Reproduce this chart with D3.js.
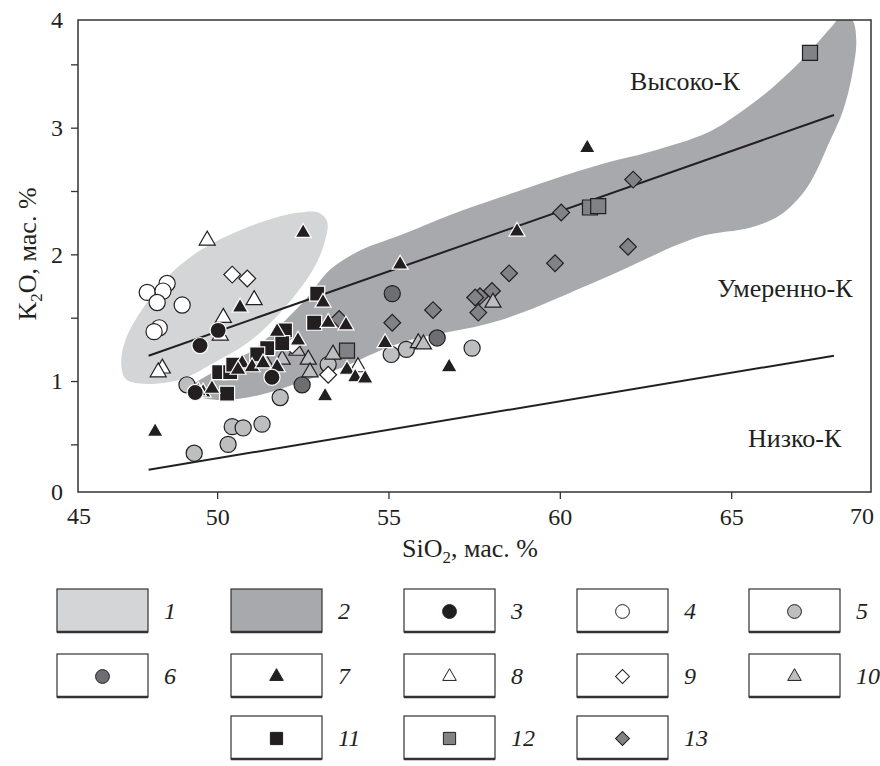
<!DOCTYPE html>
<html>
<head>
<meta charset="utf-8">
<script src="https://cdn.jsdelivr.net/npm/d3@7"></script>
<style>
  body { margin: 0; background: #fff; }
  svg { display: block; font-family: "Liberation Serif", "Times New Roman", serif; }
</style>
</head>
<body>
<svg width="880" height="766"></svg>
<script>
// ---- data: [SiO2, K2O] ----
var field1 = [[52.42,2.33],[52.95,2.33],[53.21,2.26],[53.15,2.11],[52.80,1.88],[51.84,1.54],[50.88,1.30],
  [49.88,1.14],[48.92,1.01],[47.75,0.98],[47.32,1.02],[47.20,1.15],[47.32,1.32],[47.61,1.48],[48.54,1.82],
  [49.50,2.03],[50.67,2.19],[51.84,2.30]];
var field2 = [[68.18,3.89],[68.53,3.85],[68.65,3.69],[68.53,3.42],[68.27,3.14],[67.89,2.90],[67.22,2.53],
  [66.43,2.31],[65.55,2.21],[64.09,2.14],[61.18,1.80],[58.26,1.48],[55.34,1.30],[53.59,1.10],[52.42,0.99],
  [51.25,0.89],[50.09,0.85],[49.36,0.89],[49.21,0.95],[49.50,1.01],[50.38,1.14],[51.17,1.27],[51.84,1.44],
  [52.63,1.66],[53.30,1.88],[54.17,2.03],[55.34,2.15],[56.80,2.31],[58.26,2.45],[59.43,2.56],[61.18,2.71],
  [62.63,2.81],[64.30,2.96],[65.26,3.12],[66.22,3.32],[67.01,3.52],[67.68,3.72],[68.03,3.83]];
var highKLine = [[48,1.2],[68,3.1]];
var lowKLine = [[48,0.3],[68,1.2]];

var s3 = [[49.50,1.28],[50.03,1.40],[51.60,1.03],[49.36,0.91]];
var s4 = [[47.96,1.70],[48.54,1.77],[48.42,1.71],[48.25,1.62],[48.98,1.60],[48.31,1.42],[48.16,1.39]];
var s5 = [[49.12,0.97],[51.84,0.87],[50.44,0.64],[50.76,0.63],[51.31,0.66],[50.32,0.50],[49.33,0.43],
  [53.24,1.13],[55.08,1.21],[55.52,1.25],[57.44,1.26]];
var s6 = [[52.48,0.97],[55.11,1.69],[56.42,1.34]];
var s7 = [[48.19,0.60],[52.51,2.17],[55.34,1.92],[58.75,2.18],[60.80,2.84],[56.77,1.11],[53.15,0.88],
  [50.67,1.58],[53.09,1.62],[53.24,1.46],[53.76,1.44],[51.75,1.39],[52.36,1.32],[50.73,1.14],[51.02,1.11],
  [51.34,1.14],[51.75,1.11],[50.61,1.09],[49.59,0.91],[49.85,0.94],[49.45,0.92],[53.79,1.09],[54.03,1.03],
  [54.32,1.02],[54.90,1.30]];
var s8 = [[49.71,2.11],[51.08,1.64],[50.18,1.50],[48.40,1.10],[48.28,1.07],[50.09,1.36],[54.11,1.11]];
var s9 = [[50.44,1.84],[50.88,1.81],[52.19,1.28],[53.24,1.05]];
var s10 = [[51.90,1.17],[52.66,1.17],[52.33,1.24],[52.71,1.07],[53.38,1.21],[51.40,1.15],[55.87,1.30],
  [56.02,1.29],[58.05,1.62]];
var s11 = [[52.92,1.69],[52.83,1.46],[51.98,1.40],[51.46,1.26],[51.17,1.21],[50.06,1.07],[50.38,1.07],
  [50.29,0.90],[51.90,1.30],[50.47,1.13]];
var s12 = [[67.30,3.59],[60.88,2.37],[61.12,2.38],[53.79,1.24]];
var s13 = [[62.14,2.59],[60.04,2.33],[61.99,2.06],[59.86,1.93],[58.52,1.85],[58.02,1.71],[57.67,1.67],
  [57.53,1.66],[57.62,1.54],[56.30,1.56],[55.11,1.46],[53.56,1.49]];

var xTicks = [50, 55, 60, 65];
var yTicks = [0.5, 1, 1.5, 2, 2.5, 3, 3.5];
var yTickLabels = {1: "1", 2: "2", 3: "3"};
var xCornerLabels = ["45", "70"];
var yCornerLabels = ["0", "4"];
var fieldLabels = [
  {text: "Высоко-К", sio2: 62.05, k2o: 3.30},
  {text: "Умеренно-К", sio2: 64.59, k2o: 1.66},
  {text: "Низко-К", sio2: 65.49, k2o: 0.48}
];

var BLACK = "#231f20";
var series = [
  {id: "3", data: s3, shape: "circle", fill: BLACK, stroke: "#fff"},
  {id: "4", data: s4, shape: "circle", fill: "#fff", stroke: BLACK},
  {id: "5", data: s5, shape: "circle", fill: "#bcbec0", stroke: BLACK},
  {id: "6", data: s6, shape: "circle", fill: "#6d6e71", stroke: BLACK},
  {id: "7", data: s7, shape: "triangle", fill: BLACK, stroke: "#fff"},
  {id: "8", data: s8, shape: "triangle", fill: "#fff", stroke: BLACK},
  {id: "9", data: s9, shape: "diamond", fill: "#fff", stroke: BLACK},
  {id: "10", data: s10, shape: "triangle", fill: "#bcbec0", stroke: BLACK},
  {id: "11", data: s11, shape: "square", fill: BLACK, stroke: "#fff"},
  {id: "12", data: s12, shape: "square", fill: "#808285", stroke: BLACK},
  {id: "13", data: s13, shape: "diamond", fill: "#808285", stroke: BLACK}
];
var drawOrder = ["13", "12", "6", "5", "10", "9", "8", "4", "11", "7", "3"];

// ---- layout ----
var plot = {left: 78, right: 871, top: 20, bottom: 492};
var x = d3.scaleLinear().domain([45.94, 69.08]).range([plot.left, plot.right]);
var y = d3.scaleLinear().domain([0.124, 3.85]).range([plot.bottom, plot.top]);

var svg = d3.select("svg");

svg.append("clipPath").attr("id", "plot-clip")
  .append("rect")
  .attr("x", plot.left).attr("y", plot.top)
  .attr("width", plot.right - plot.left).attr("height", plot.bottom - plot.top);

var area = d3.line()
  .x(function(d) { return x(d[0]); })
  .y(function(d) { return y(d[1]); })
  .curve(d3.curveCatmullRomClosed.alpha(0.5));
var line = d3.line()
  .x(function(d) { return x(d[0]); })
  .y(function(d) { return y(d[1]); });

var g = svg.append("g").attr("clip-path", "url(#plot-clip)");
g.append("path").attr("d", area(field2)).attr("fill", "#a7a9ac");
g.append("path").attr("d", area(field1)).attr("fill", "#d4d5d7");
g.append("path").attr("d", line(highKLine)).attr("fill", "none").attr("stroke", BLACK).attr("stroke-width", 2);
g.append("path").attr("d", line(lowKLine)).attr("fill", "none").attr("stroke", BLACK).attr("stroke-width", 2);

function symbolPath(shape, big) {
  if (shape == "circle") return d3.symbol(d3.symbolCircle, big ? 205 : 150)();
  if (shape == "triangle") return d3.symbol(d3.symbolTriangle, big ? 112 : 80)();
  if (shape == "square") return d3.symbol(d3.symbolSquare, big ? 225 : 150)();
  return d3.symbol(d3.symbolSquare, big ? 140 : 96)();
}
function symbolTransform(shape, px, py) {
  return "translate(" + px + "," + py + ")" + (shape == "diamond" ? " rotate(45)" : "");
}

var byId = {};
series.forEach(function(s) { byId[s.id] = s; });
drawOrder.forEach(function(id) {
  var s = byId[id];
  svg.append("g").selectAll("path").data(s.data).join("path")
    .attr("d", symbolPath(s.shape, true))
    .attr("transform", function(d) { return symbolTransform(s.shape, x(d[0]), y(d[1])); })
    .attr("fill", s.fill)
    .attr("stroke", s.stroke)
    .attr("stroke-width", 1.2);
});

// field labels
svg.append("g").selectAll("text").data(fieldLabels).join("text")
  .attr("x", function(d) { return x(d.sio2); })
  .attr("y", function(d) { return y(d.k2o); })
  .attr("font-size", 26)
  .attr("fill", BLACK)
  .text(function(d) { return d.text; });

// frame
svg.append("rect")
  .attr("x", plot.left).attr("y", plot.top)
  .attr("width", plot.right - plot.left).attr("height", plot.bottom - plot.top)
  .attr("fill", "none").attr("stroke", "#333").attr("stroke-width", 1.5);

// axes
var xAxis = svg.append("g")
  .attr("transform", "translate(0," + plot.bottom + ")")
  .call(d3.axisBottom(x).tickValues(xTicks).tickSize(7).tickSizeOuter(0).tickPadding(9));
var yAxis = svg.append("g")
  .attr("transform", "translate(" + plot.left + ",0)")
  .call(d3.axisLeft(y).tickValues(yTicks).tickSize(7).tickSizeOuter(0).tickPadding(8)
    .tickFormat(function(d) { return yTickLabels[d] || ""; }));
[xAxis, yAxis].forEach(function(a) {
  a.select(".domain").remove();
  a.selectAll("line").attr("stroke", "#333").attr("stroke-width", 1.3);
  a.selectAll("text").attr("font-family", "Liberation Serif").attr("font-size", 24).attr("fill", BLACK);
});

// corner labels (axis ends)
svg.append("g").selectAll("text").data(xCornerLabels).join("text")
  .attr("x", function(d, i) { return i == 0 ? plot.left + 1 : plot.right - 9; })
  .attr("y", plot.bottom + 32)
  .attr("text-anchor", "middle")
  .attr("font-size", 24).attr("fill", BLACK)
  .text(function(d) { return d; });
svg.append("g").selectAll("text").data(yCornerLabels).join("text")
  .attr("x", plot.left - 15)
  .attr("y", function(d, i) { return (i == 0 ? plot.bottom : plot.top) + 8; })
  .attr("text-anchor", "end")
  .attr("font-size", 24).attr("fill", BLACK)
  .text(function(d) { return d; });

// axis titles
var xt = svg.append("text")
  .attr("x", 470).attr("y", 557)
  .attr("text-anchor", "middle").attr("font-size", 26).attr("fill", BLACK);
xt.append("tspan").text("SiO");
xt.append("tspan").attr("font-size", 17).attr("dy", 6).text("2");
xt.append("tspan").attr("dy", -6).text(", мас. %");

var yt = svg.append("text")
  .attr("transform", "translate(36,254) rotate(-90)")
  .attr("text-anchor", "middle").attr("font-size", 26).attr("fill", BLACK);
yt.append("tspan").text("K");
yt.append("tspan").attr("font-size", 17).attr("dy", 6).text("2");
yt.append("tspan").attr("dy", -6).text("O, мас. %");

// ---- legend ----
var legendItems = [
  {id: "1", area: "#d4d5d7"}, {id: "2", area: "#a7a9ac"}
].concat(series);
var legCols = [57, 231, 404, 577, 749];
var legRows = [589, 654, 716];
var legendPos = [[0,0],[1,0],[2,0],[3,0],[4,0],[0,1],[1,1],[2,1],[3,1],[4,1],[1,2],[2,2],[3,2]];
var boxW = 91, boxH = 43;

var leg = svg.append("g").selectAll("g").data(legendItems).join("g")
  .attr("transform", function(d, i) {
    return "translate(" + legCols[legendPos[i][0]] + "," + legRows[legendPos[i][1]] + ")";
  });
leg.append("rect")
  .attr("width", boxW).attr("height", boxH)
  .attr("fill", function(d) { return d.area || "#fff"; })
  .attr("stroke", "#333").attr("stroke-width", 1.2);
leg.append("line")
  .attr("x1", 0).attr("x2", boxW).attr("y1", boxH).attr("y2", boxH)
  .attr("stroke", "#333").attr("stroke-width", 2.5);
leg.filter(function(d) { return !d.area; }).append("path")
  .attr("d", function(d) { return symbolPath(d.shape, false); })
  .attr("transform", function(d) { return symbolTransform(d.shape, boxW / 2, boxH / 2 + 1); })
  .attr("fill", function(d) { return d.fill; })
  .attr("stroke", function(d) { return d.fill == BLACK ? BLACK : d.stroke; })
  .attr("stroke-width", 1);
leg.append("text")
  .attr("x", boxW + 16).attr("y", boxH / 2 + 8)
  .attr("font-size", 24).attr("font-style", "italic").attr("fill", BLACK)
  .text(function(d) { return d.id; });
</script>
</body>
</html>
